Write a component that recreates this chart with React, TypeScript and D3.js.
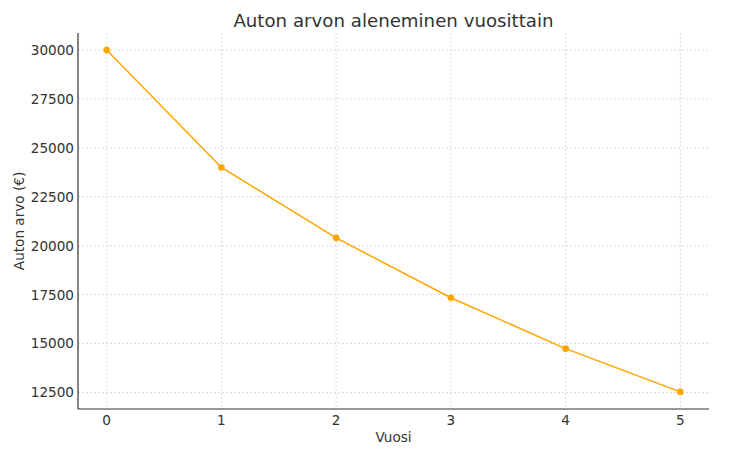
import React from 'react';
import * as d3 from 'd3';

const years = [0, 1, 2, 3, 4, 5];
const values = [30000, 24000, 20400, 17340, 14739, 12528];
const yTicks = [12500, 15000, 17500, 20000, 22500, 25000, 27500, 30000];

const width = 742;
const height = 456;
const margin = { top: 33, right: 33, bottom: 47, left: 78 };
const textColor = '#333333';
const font = 'DejaVu Sans, sans-serif';

const App: React.FC = () => {
  const x = d3.scaleLinear().domain([-0.25, 5.25]).range([margin.left, width - margin.right]);
  const y = d3.scaleLinear().domain([11654, 30874]).range([height - margin.bottom, margin.top]);

  const line = d3.line<number>()
    .x((_, i) => x(years[i]))
    .y(d => y(d));

  const x0 = margin.left;
  const x1 = width - margin.right;
  const y0 = height - margin.bottom;
  const y1 = margin.top;

  return (
    <svg width={width} height={height} style={{ position: 'absolute', left: 0, top: 0, background: '#fff' }} fontFamily={font}>
      {/* grid */}
      <g stroke="#d0d0d0" strokeWidth={0.8} strokeDasharray="2,2">
        {years.map(t => (
          <line key={'gx' + t} x1={x(t)} x2={x(t)} y1={y1} y2={y0} />
        ))}
        {yTicks.map(t => (
          <line key={'gy' + t} x1={x0} x2={x1} y1={y(t)} y2={y(t)} />
        ))}
      </g>

      {/* spines */}
      <line x1={x0} x2={x0} y1={y1} y2={y0} stroke={textColor} strokeWidth={1.2} />
      <line x1={x0} x2={x1} y1={y0} y2={y0} stroke={textColor} strokeWidth={1.2} />

      {/* tick labels */}
      {years.map(t => (
        <text key={'tx' + t} x={x(t)} y={y0 + 16} textAnchor="middle" fontSize={13.6} fill={textColor}>{t}</text>
      ))}
      {yTicks.map(t => (
        <text key={'ty' + t} x={x0 - 4} y={y(t)} dy="0.36em" textAnchor="end" fontSize={13.6} fill={textColor}>{t}</text>
      ))}

      {/* series */}
      <path d={line(values) ?? ''} fill="none" stroke="#FFA500" strokeWidth={1.5} />
      {values.map((v, i) => (
        <circle key={'p' + i} cx={x(years[i])} cy={y(v)} r={3.3} fill="#FFA500" />
      ))}

      {/* labels */}
      <text x={(x0 + x1) / 2} y={27} textAnchor="middle" fontSize={18.2} fill={textColor}>Auton arvon aleneminen vuosittain</text>
      <text x={(x0 + x1) / 2} y={442} textAnchor="middle" fontSize={13.6} fill={textColor}>Vuosi</text>
      <text transform={`translate(24, ${(y0 + y1) / 2}) rotate(-90)`} textAnchor="middle" fontSize={13.6} fill={textColor}>Auton arvo (€)</text>
    </svg>
  );
};

export default App;
